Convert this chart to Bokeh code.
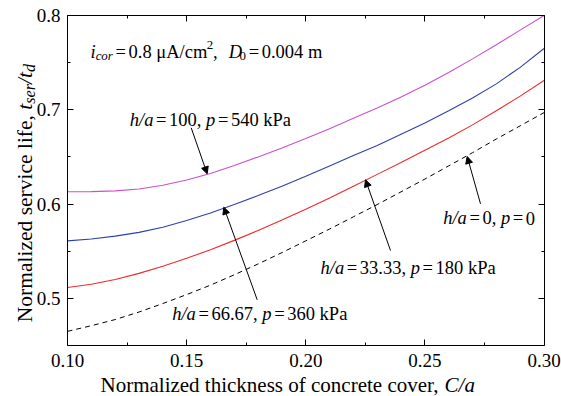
import math
from bokeh.plotting import figure
from bokeh.models import (Label, Arrow, NormalHead, LinearAxis, Range1d,
                          FixedTicker, NumeralTickFormatter, CustomJSTickFormatter)
from bokeh.embed import file_html
from bokeh.resources import INLINE

# ---------------- data ----------------
c_over_a = [0.10, 0.11, 0.12, 0.13, 0.14, 0.15, 0.16, 0.17, 0.18, 0.19, 0.20,
            0.21, 0.22, 0.23, 0.24, 0.25, 0.26, 0.27, 0.28, 0.29, 0.30]
life_h100 = [0.6130, 0.6132, 0.6140, 0.6160, 0.6200, 0.6255, 0.6325, 0.6410, 0.6500, 0.6595, 0.6695,
             0.6800, 0.6910, 0.7020, 0.7135, 0.7260, 0.7395, 0.7540, 0.7690, 0.7845, 0.8000]
life_h67 = [0.5610, 0.5630, 0.5660, 0.5700, 0.5755, 0.5825, 0.5905, 0.5995, 0.6090, 0.6190, 0.6295,
            0.6405, 0.6515, 0.6620, 0.6740, 0.6860, 0.6990, 0.7125, 0.7275, 0.7450, 0.7650]
life_h33 = [0.5115, 0.5150, 0.5200, 0.5265, 0.5340, 0.5425, 0.5515, 0.5615, 0.5720, 0.5830, 0.5945,
            0.6065, 0.6190, 0.6315, 0.6440, 0.6570, 0.6700, 0.6840, 0.6990, 0.7145, 0.7310]
life_h0 = [0.4650, 0.4710, 0.4775, 0.4855, 0.4945, 0.5040, 0.5140, 0.5250, 0.5365, 0.5485, 0.5610,
           0.5735, 0.5865, 0.5995, 0.6130, 0.6265, 0.6405, 0.6545, 0.6690, 0.6830, 0.6970]

x_major = [0.10, 0.15, 0.20, 0.25, 0.30]
x_minor = [0.125, 0.175, 0.225, 0.275]
y_major = [0.5, 0.6, 0.7, 0.8]
y_minor = [0.55, 0.65, 0.75]
x_lo, x_hi = 0.10, 0.30
y_lo, y_hi = 0.45, 0.80

FONT = "Liberation Serif"
W, H = 561, 396
# plot box in canvas pixels
BOX_L, BOX_R, BOX_T, BOX_B = 67.0, 543.5, 15.0, 345.0
sx = (BOX_R - BOX_L) / (x_hi - x_lo)
sy = (BOX_B - BOX_T) / (y_hi - y_lo)
xr = Range1d(x_lo - BOX_L / sx, x_hi + (W - BOX_R) / sx)
yr = Range1d(y_lo - (H - BOX_B) / sy, y_hi + BOX_T / sy)


def X(px):
    return xr.start + px / sx


def Y(py):
    return yr.end - py / sy


# Times / Liberation Serif advance widths (per 1000 em)
REG = {' ': 250, ',': 250, '.': 250, '/': 278, '=': 564, 'A': 722, 'C': 667, 'D': 722,
       'N': 722, 'P': 556, 'a': 444, 'c': 444, 'd': 500, 'e': 444, 'f': 333, 'h': 500,
       'i': 278, 'k': 500, 'l': 278, 'm': 778, 'n': 500, 'o': 500, 'r': 333, 's': 389,
       't': 278, 'u': 500, 'v': 500, 'z': 444, '\u03bc': 500}
for d in "0123456789":
    REG[d] = 500
ITA = {'h': 500, 'a': 500, '/': 278, 'p': 500, 'i': 278, 'c': 444, 'o': 500, 'r': 389,
       'D': 722, 'C': 667, 't': 278, 's': 389, 'e': 444, 'd': 500}
DESC = 0.216   # baseline correction (fraction of the font size)


def width(text, italic, size):
    tab = ITA if italic else REG
    return sum(tab.get(ch, 500) for ch in text) * size / 1000.0


def add_runs(p, x, y, runs, size, angle=0.0):
    """runs: list of (text, italic, baseline_shift_px, scale, pad_before, pad_after)"""
    off = 0.0
    corr = DESC * size
    for text, italic, shift, scale, pre, post in runs:
        fs = size * scale
        off += pre
        if angle == 0.0:
            xo, yo = off, shift + corr
        else:
            xo, yo = -(shift + corr), off
        p.add_layout(Label(x=x, y=y, x_offset=xo, y_offset=yo, text=text, angle=angle,
                           text_font=FONT, text_font_size=f"{fs:.1f}px",
                           text_font_style="italic" if italic else "normal",
                           text_color="black", text_align="left",
                           text_baseline="alphabetic"))
        off += width(text, italic, fs) + post


p = figure(width=W, height=H, x_range=xr, y_range=yr,
           output_backend="svg", toolbar_location=None,
           x_axis_location=None, y_axis_location=None, min_border=0)
p.xgrid.visible = False
p.ygrid.visible = False
p.outline_line_color = None
p.background_fill_color = "white"
p.border_fill_color = "white"

xt = FixedTicker(ticks=x_major, minor_ticks=x_minor)
yt = FixedTicker(ticks=y_major, minor_ticks=y_minor)
blank = CustomJSTickFormatter(code="return ''")

ax_b = LinearAxis(ticker=xt, formatter=NumeralTickFormatter(format="0.00"),
                  fixed_location=y_lo, bounds=(x_lo, x_hi))
ax_t = LinearAxis(ticker=xt, formatter=blank, fixed_location=y_hi, bounds=(x_lo, x_hi))
ax_l = LinearAxis(ticker=yt, formatter=NumeralTickFormatter(format="0.0"),
                  fixed_location=x_lo, bounds=(y_lo, y_hi))
ax_r = LinearAxis(ticker=yt, formatter=blank, fixed_location=x_hi, bounds=(y_lo, y_hi))
p.add_layout(ax_b, "below")
p.add_layout(ax_t, "above")
p.add_layout(ax_l, "left")
p.add_layout(ax_r, "right")

for ax in (ax_b, ax_t, ax_l, ax_r):
    ax.axis_line_color = "black"
    ax.axis_line_width = 1
    ax.major_tick_line_color = "black"
    ax.minor_tick_line_color = "black"
    ax.major_tick_in = 6
    ax.major_tick_out = 0
    ax.minor_tick_in = 3
    ax.minor_tick_out = 0
    ax.major_label_text_font = FONT
    ax.major_label_text_font_size = "19px"
    ax.major_label_text_color = "black"
ax_b.major_label_standoff = 8
ax_l.major_label_standoff = 7

# ---------------- curves ----------------
p.line(c_over_a, life_h100, line_color="#cc4fcc", line_width=1.1)
p.line(c_over_a, life_h67, line_color="#2f3fae", line_width=1.1)
p.line(c_over_a, life_h33, line_color="#ee2a2a", line_width=1.1)
p.line(c_over_a, life_h0, line_color="black", line_width=1.0, line_dash="5 4")

# ---------------- annotations ----------------
FS = 18.5
EQ = 2.6


def ha_runs(ha, pv):
    return [("h/a", True, 0, 1, 0, 0), ("=", False, 0, 1, EQ, EQ), (ha + ", ", False, 0, 1, 0, 0),
            ("p", True, 0, 1, 0, 0), ("=", False, 0, 1, EQ, EQ), (pv, False, 0, 1, 0, 0)]


add_runs(p, X(129.3), Y(123.3), ha_runs("100", "540 kPa"), FS)
add_runs(p, X(171.7), Y(317.3), ha_runs("66.67", "360 kPa"), FS)
add_runs(p, X(320.0), Y(271.7), ha_runs("33.33", "180 kPa"), FS)
add_runs(p, X(442.7), Y(221.7), ha_runs("0", "0"), FS)

top_runs = [("i", True, 0, 1, 0, 0), ("cor", True, -4, 0.7, 0, 0), ("=", False, 0, 1, EQ, EQ),
            ("0.8 \u03bcA/cm", False, 0, 1, 0, 0), ("2", False, 7, 0.7, 0, 0),
            (",", False, 0, 1, 0, 0), ("D", True, 0, 1, 11.0, 0), ("0", False, -4, 0.7, -2.5, 0),
            ("=", False, 0, 1, EQ, EQ), ("0.004 m", False, 0, 1, 0, 0)]
add_runs(p, X(90.0), Y(55.0), top_runs, FS)

arrows = [((190.7, 127.3), (206.7, 173.3)),
          ((256.7, 299.3), (223.3, 206.7)),
          ((390.0, 250.0), (365.0, 179.3)),
          ((480.0, 203.3), (466.7, 156.0))]
for (x0, y0), (x1, y1) in arrows:
    p.add_layout(Arrow(end=NormalHead(size=7, line_color="black", fill_color="black", line_width=1),
                       x_start=X(x0), y_start=Y(y0), x_end=X(x1), y_end=Y(y1),
                       line_color="black", line_width=1))

# ---------------- axis titles ----------------
x_title = [("Normalized thickness of concrete cover, ", False, 0, 1, 0, 0),
           ("C/a", True, 0, 1, 0, 0)]
add_runs(p, X(100.0), Y(389.5), x_title, 21)

y_title = [("Normalized service life, ", False, 0, 1, 0, 0), ("t", True, 0, 1, 0, 0),
           ("ser", True, -5, 0.75, 0, 0), ("/", True, 0, 1, 0, 0), ("t", True, 0, 1, 0, 0),
           ("d", True, -5, 0.75, 0, 0)]
add_runs(p, X(29.0), Y(321.7), y_title, 21.5, angle=math.pi / 2)

open("out.html", "w").write(file_html(p, INLINE))
